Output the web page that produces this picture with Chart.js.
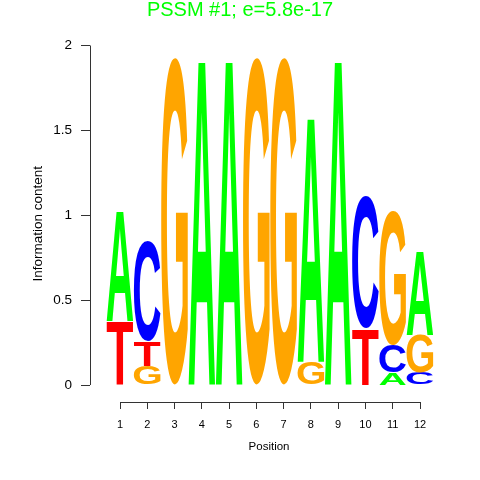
<!DOCTYPE html>
<html>
<head>
<meta charset="utf-8">
<script src="https://cdn.jsdelivr.net/npm/chart.js@4/dist/chart.umd.min.js"></script>
<style>
  html, body { margin: 0; padding: 0; background: #fff; }
  #wrap { width: 480px; height: 480px; }
</style>
</head>
<body>
<div id="wrap"><canvas id="logo"></canvas></div>
<script>
// Positions along the motif
const positions = [1, 2, 3, 4, 5, 6, 7, 8, 9, 10, 11, 12];

// Letter heights (bits)
const heightA = [0.65, 0, 0, 1.93, 1.93, 0, 0, 1.45, 1.93, 0, 0.072, 0.50];
const heightC = [0, 0.59, 0, 0, 0, 0, 0, 0, 0, 0.775, 0.163, 0.072];
const heightG = [0, 0.11, 1.93, 0, 0, 1.93, 1.93, 0.137, 0, 0, 0.795, 0.222];
const heightT = [0.38, 0.145, 0, 0, 0, 0, 0, 0, 0, 0.335, 0, 0];

const yTicks = [0, 0.5, 1, 1.5, 2];

const letterColors = { A: "#00FF00", C: "#0000FF", G: "#FFA500", T: "#FF0000" };

// stack letters per position: smallest at bottom
const heights = { A: heightA, C: heightC, G: heightG, T: heightT };
const ranks = [[], [], [], []];
positions.forEach((p, i) => {
  const col = ["A", "C", "G", "T"]
    .map((l) => ({ l: l, h: heights[l][i] }))
    .sort((a, b) => a.h - b.h);
  col.forEach((c, r) => ranks[r].push(c));
});

const datasets = ranks.map((rank, r) => ({
  label: "rank " + r,
  data: rank.map((c, i) => ({ x: positions[i], y: c.h })),
  letters: rank.map((c) => c.l),
  backgroundColor: "rgba(0,0,0,0)",
  borderWidth: 0,
  barPercentage: 1,
  categoryPercentage: 1,
}));

// draws each letter stretched to fill its bar
const letterPlugin = {
  id: "letters",
  afterDatasetsDraw(chart) {
    const ctx = chart.ctx;
    ctx.save();
    ctx.font = 'bold 100px "Liberation Sans", Arial, sans-serif';
    ctx.textBaseline = "alphabetic";
    ctx.textAlign = "left";
    chart.data.datasets.forEach((ds, di) => {
      const meta = chart.getDatasetMeta(di);
      meta.data.forEach((bar, i) => {
        const ch = ds.letters[i];
        const top = Math.min(bar.y, bar.base);
        const h = Math.abs(bar.base - bar.y);
        if (h < 0.5) return;
        const w = bar.width * 0.98;
        const left = bar.x - w / 2;
        const m = ctx.measureText(ch);
        const gl = -m.actualBoundingBoxLeft;
        const gr = m.actualBoundingBoxRight;
        const gt = -m.actualBoundingBoxAscent;
        const gb = m.actualBoundingBoxDescent;
        ctx.save();
        ctx.translate(left, top);
        ctx.scale(w / (gr - gl), h / (gb - gt));
        ctx.fillStyle = letterColors[ch];
        ctx.fillText(ch, -gl, -gt);
        ctx.restore();
      });
    });
    ctx.restore();
  },
};

// R style axis lines that only span the tick range
const axisPlugin = {
  id: "rAxes",
  afterDraw(chart) {
    const ctx = chart.ctx;
    const xs = chart.scales.x;
    const ys = chart.scales.y;
    ctx.save();
    ctx.strokeStyle = "#333";
    ctx.lineWidth = 1;
    ctx.beginPath();
    const yb = Math.round(xs.top) + 0.5;
    ctx.moveTo(xs.getPixelForValue(positions[0]), yb);
    ctx.lineTo(xs.getPixelForValue(positions[positions.length - 1]), yb);
    const xl = Math.round(ys.right) + 0.5;
    ctx.moveTo(xl, ys.getPixelForValue(yTicks[0]));
    ctx.lineTo(xl, ys.getPixelForValue(yTicks[yTicks.length - 1]));
    ctx.stroke();
    ctx.restore();
  },
};

new Chart(document.getElementById("logo").getContext("2d"), {
  type: "bar",
  data: { datasets: datasets },
  plugins: [letterPlugin, axisPlugin],
  options: {
    responsive: true,
    maintainAspectRatio: false,
    animation: false,
    layout: { padding: 0 },
    plugins: {
      legend: { display: false },
      tooltip: { enabled: false },
      title: {
        display: true,
        text: "PSSM #1; e=5.8e-17",
        color: "#00FF00",
        font: { family: "Liberation Sans, Arial, sans-serif", size: 20, weight: "normal", lineHeight: 1 },
        padding: { top: 0, bottom: 25.5 },
      },
    },
    scales: {
      x: {
        type: "linear",
        stacked: true,
        min: -0.1,
        max: 14.2,
        offset: false,
        afterBuildTicks: (scale) => { scale.ticks = positions.map((v) => ({ value: v })); },
        afterFit: (scale) => { scale.height = 78; },
        border: { display: false },
        grid: { display: true, drawOnChartArea: false, drawTicks: true, tickLength: 7, color: "#333", offset: false },
        ticks: {
          color: "#000",
          padding: 9,
          maxRotation: 0,
          autoSkip: false,
          font: { family: "Liberation Sans, Arial, sans-serif", size: 11 },
        },
        title: {
          display: true,
          // trailing spaces pull the centred label left, onto the plot centre
          text: "Position          ",
          color: "#000",
          font: { family: "Liberation Sans, Arial, sans-serif", size: 11.5, lineHeight: 1.2 },
          padding: { top: 0, bottom: 26.5 },
        },
      },
      y: {
        stacked: true,
        min: -0.1,
        max: 2,
        afterBuildTicks: (scale) => { scale.ticks = yTicks.map((v) => ({ value: v })); },
        afterFit: (scale) => { scale.width = 90; },
        border: { display: false },
        grid: { display: true, drawOnChartArea: false, drawTicks: true, tickLength: 9, color: "#333" },
        ticks: {
          color: "#000",
          padding: 9,
          callback: (v) => String(v),
          font: { family: "Liberation Sans, Arial, sans-serif", size: 13.5 },
        },
        title: {
          display: true,
          text: "Information content",
          color: "#000",
          font: { family: "Liberation Sans, Arial, sans-serif", size: 13.5, lineHeight: 1.2 },
          padding: { top: 29.9, bottom: 0 },
        },
      },
    },
  },
});
</script>
</body>
</html>
